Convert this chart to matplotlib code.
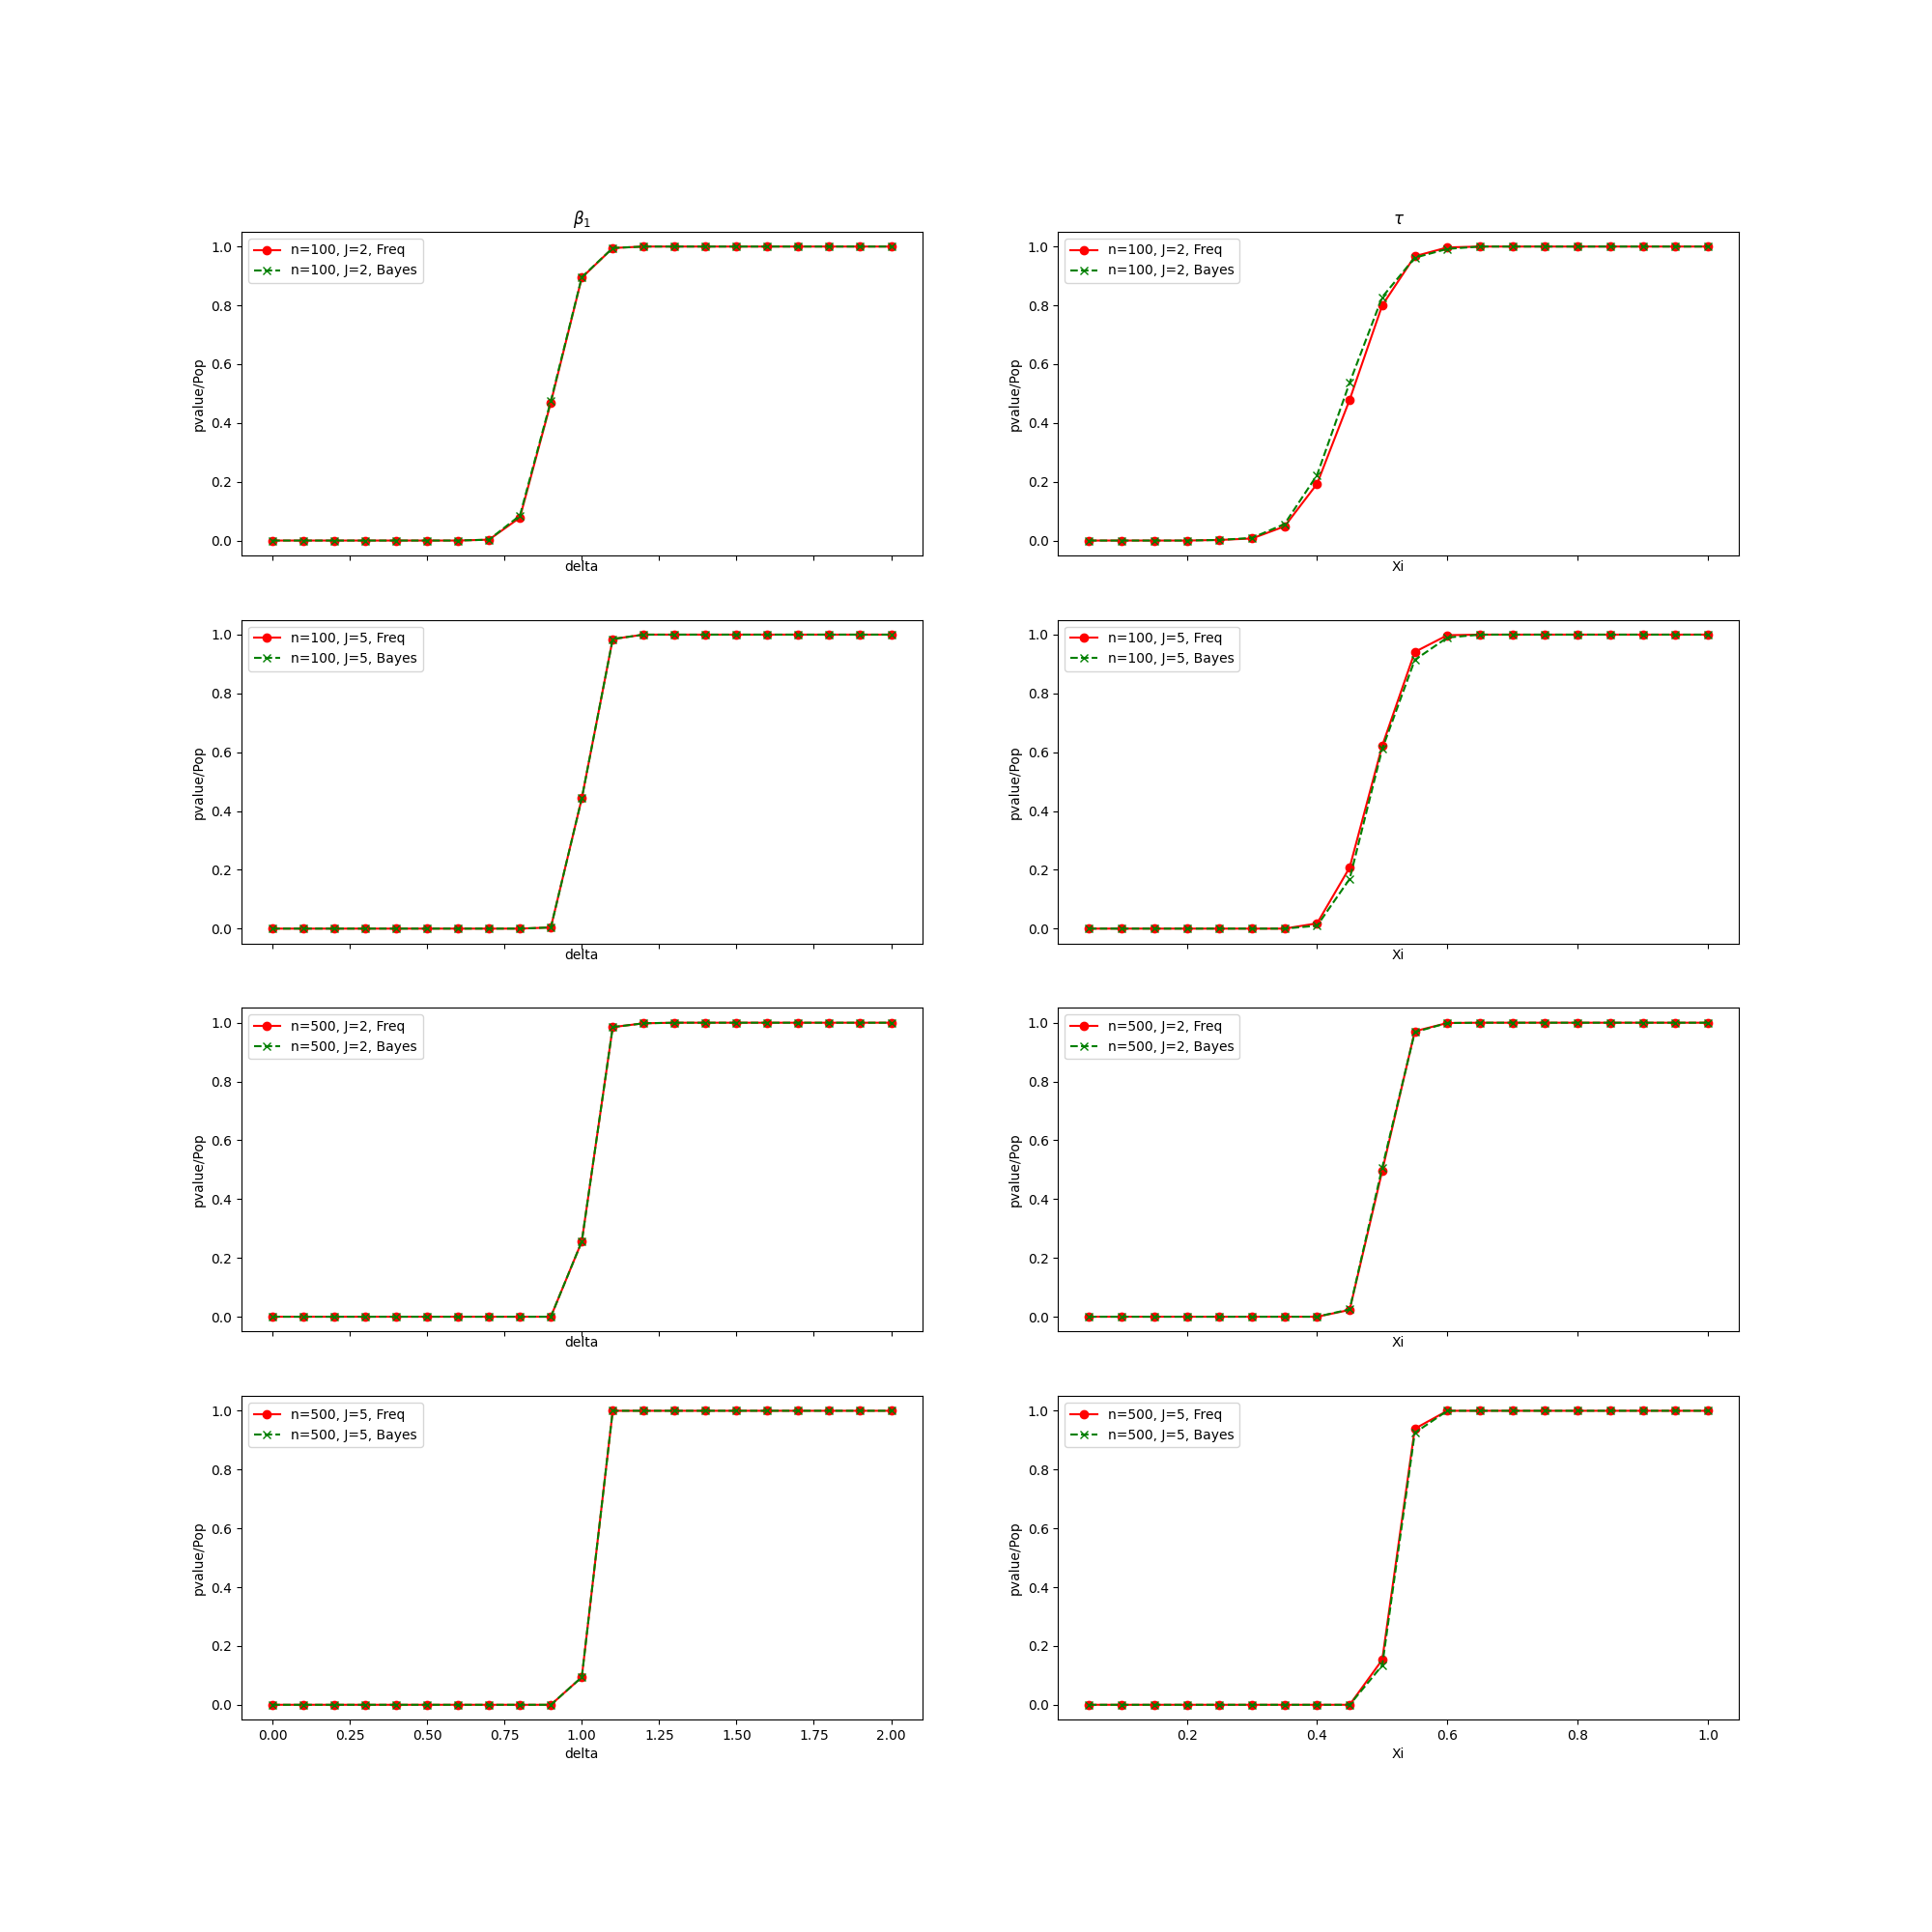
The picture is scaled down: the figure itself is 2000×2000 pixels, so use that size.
import numpy as np
import matplotlib
matplotlib.use("Agg")
import matplotlib.pyplot as plt

delta = [0.0, 0.1, 0.2, 0.3, 0.4, 0.5, 0.6, 0.7, 0.8, 0.9, 1.0,
         1.1, 1.2, 1.3, 1.4, 1.5, 1.6, 1.7, 1.8, 1.9, 2.0]
xi = [0.05, 0.1, 0.15, 0.2, 0.25, 0.3, 0.35, 0.4, 0.45, 0.5,
      0.55, 0.6, 0.65, 0.7, 0.75, 0.8, 0.85, 0.9, 0.95, 1.0]

# beta_1 column (x = delta)
b_n100_j2_freq = [0, 0, 0, 0, 0, 0, 0, 0.003, 0.078, 0.470, 0.894,
                  0.995, 1.0, 1.0, 1.0, 1.0, 1.0, 1.0, 1.0, 1.0, 1.0]
b_n100_j2_bayes = [0, 0, 0, 0, 0, 0, 0, 0.003, 0.085, 0.475, 0.896,
                   0.995, 1.0, 1.0, 1.0, 1.0, 1.0, 1.0, 1.0, 1.0, 1.0]
b_n100_j5_freq = [0, 0, 0, 0, 0, 0, 0, 0, 0, 0.004, 0.443,
                  0.985, 1.0, 1.0, 1.0, 1.0, 1.0, 1.0, 1.0, 1.0, 1.0]
b_n100_j5_bayes = [0, 0, 0, 0, 0, 0, 0, 0, 0, 0.004, 0.443,
                   0.985, 1.0, 1.0, 1.0, 1.0, 1.0, 1.0, 1.0, 1.0, 1.0]
b_n500_j2_freq = [0, 0, 0, 0, 0, 0, 0, 0, 0, 0, 0.256,
                  0.985, 0.998, 1.0, 1.0, 1.0, 1.0, 1.0, 1.0, 1.0, 1.0]
b_n500_j2_bayes = [0, 0, 0, 0, 0, 0, 0, 0, 0, 0, 0.256,
                   0.985, 0.998, 1.0, 1.0, 1.0, 1.0, 1.0, 1.0, 1.0, 1.0]
b_n500_j5_freq = [0, 0, 0, 0, 0, 0, 0, 0, 0, 0, 0.094,
                  1.0, 1.0, 1.0, 1.0, 1.0, 1.0, 1.0, 1.0, 1.0, 1.0]
b_n500_j5_bayes = [0, 0, 0, 0, 0, 0, 0, 0, 0, 0, 0.094,
                   1.0, 1.0, 1.0, 1.0, 1.0, 1.0, 1.0, 1.0, 1.0, 1.0]

# tau column (x = Xi)
t_n100_j2_freq = [0, 0, 0, 0, 0.002, 0.007, 0.048, 0.193, 0.479, 0.800,
                  0.967, 0.997, 1.0, 1.0, 1.0, 1.0, 1.0, 1.0, 1.0, 1.0]
t_n100_j2_bayes = [0, 0, 0, 0, 0.002, 0.009, 0.056, 0.223, 0.537, 0.828,
                   0.962, 0.992, 1.0, 1.0, 1.0, 1.0, 1.0, 1.0, 1.0, 1.0]
t_n100_j5_freq = [0, 0, 0, 0, 0, 0, 0, 0.018, 0.208, 0.622,
                  0.941, 0.998, 1.0, 1.0, 1.0, 1.0, 1.0, 1.0, 1.0, 1.0]
t_n100_j5_bayes = [0, 0, 0, 0, 0, 0, 0, 0.010, 0.169, 0.611,
                   0.914, 0.990, 1.0, 1.0, 1.0, 1.0, 1.0, 1.0, 1.0, 1.0]
t_n500_j2_freq = [0, 0, 0, 0, 0, 0, 0, 0, 0.023, 0.496,
                  0.971, 0.999, 1.0, 1.0, 1.0, 1.0, 1.0, 1.0, 1.0, 1.0]
t_n500_j2_bayes = [0, 0, 0, 0, 0, 0, 0, 0, 0.025, 0.507,
                   0.968, 0.999, 1.0, 1.0, 1.0, 1.0, 1.0, 1.0, 1.0, 1.0]
t_n500_j5_freq = [0, 0, 0, 0, 0, 0, 0, 0, 0, 0.153,
                  0.939, 1.0, 1.0, 1.0, 1.0, 1.0, 1.0, 1.0, 1.0, 1.0]
t_n500_j5_bayes = [0, 0, 0, 0, 0, 0, 0, 0, 0, 0.134,
                   0.925, 1.0, 1.0, 1.0, 1.0, 1.0, 1.0, 1.0, 1.0, 1.0]

labels = ["n=100, J=2", "n=100, J=5", "n=500, J=2", "n=500, J=5"]
beta_freq = [b_n100_j2_freq, b_n100_j5_freq, b_n500_j2_freq, b_n500_j5_freq]
beta_bayes = [b_n100_j2_bayes, b_n100_j5_bayes, b_n500_j2_bayes, b_n500_j5_bayes]
tau_freq = [t_n100_j2_freq, t_n100_j5_freq, t_n500_j2_freq, t_n500_j5_freq]
tau_bayes = [t_n100_j2_bayes, t_n100_j5_bayes, t_n500_j2_bayes, t_n500_j5_bayes]

fig, axes = plt.subplots(4, 2, sharex='col', figsize=(20, 20))

for i in range(4):
    # upper rows have no tick labels, so the xlabel sits right under the ticks
    pad = 4.0 if i == 3 else 0.2

    ax = axes[i, 0]
    ax.plot(delta, beta_freq[i], 'r-o', label=labels[i] + ", Freq")
    ax.plot(delta, beta_bayes[i], 'g--x', label=labels[i] + ", Bayes")
    ax.set_xlabel("delta", labelpad=pad)
    ax.set_ylabel("pvalue/Pop")
    ax.legend(loc="upper left")

    ax = axes[i, 1]
    ax.plot(xi, tau_freq[i], 'r-o', label=labels[i] + ", Freq")
    ax.plot(xi, tau_bayes[i], 'g--x', label=labels[i] + ", Bayes")
    ax.set_xlabel("Xi", labelpad=pad)
    ax.set_ylabel("pvalue/Pop")
    ax.legend(loc="upper left")

axes[0, 0].set_title(r"$\beta_1$")
axes[0, 1].set_title(r"$\tau$")

plt.savefig("out.png", dpi=100)
